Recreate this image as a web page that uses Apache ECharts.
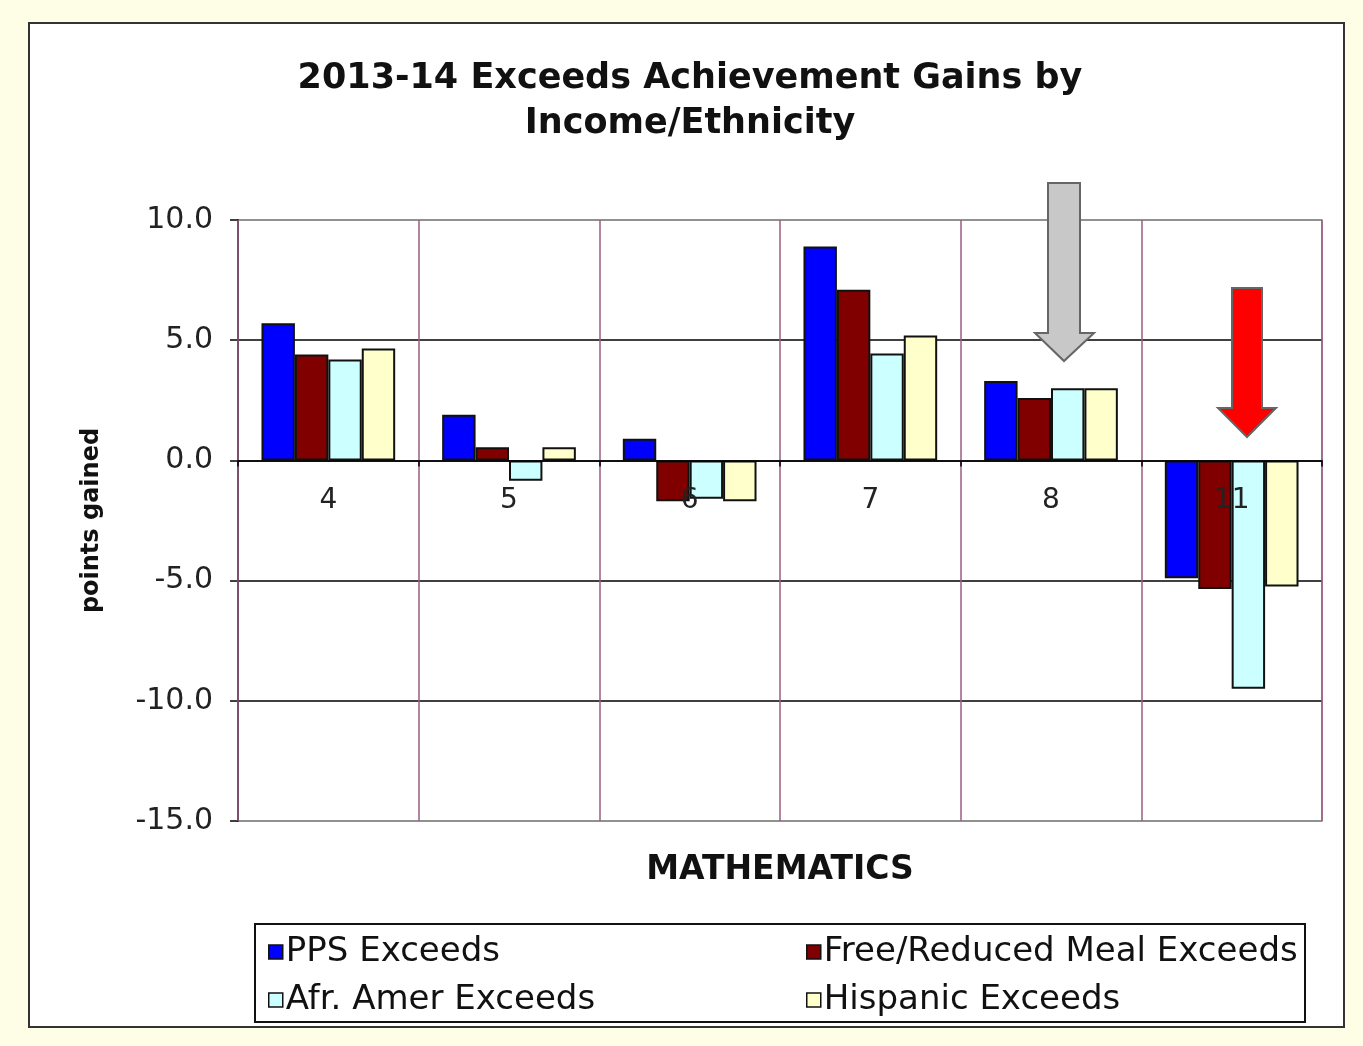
<!DOCTYPE html>
<html>
<head>
<meta charset="utf-8">
<script src="https://cdn.jsdelivr.net/npm/echarts@6/dist/echarts.min.js"></script>
<style>
html,body{margin:0;padding:0;background:#FEFDE6;}
#frame{position:absolute;left:28px;top:22px;width:1317px;height:1006px;background:#fff;border:2px solid #333;box-sizing:border-box;}
#chart{position:absolute;left:0;top:0;width:1363px;height:1046px;}
</style>
</head>
<body>
<div id="frame"></div>
<div id="chart"></div>
<script>
const categories = ['4', '5', '6', '7', '8', '11'];
const seriesNames = ['PPS Exceeds', 'Free/Reduced Meal Exceeds', 'Afr. Amer Exceeds', 'Hispanic Exceeds'];
const ppsExceeds = [5.7, 1.9, 0.9, 8.9, 3.3, -4.9];
const frmExceeds = [4.4, 0.55, -1.7, 7.1, 2.6, -5.35];
const afrExceeds = [4.2, -0.85, -1.6, 4.45, 3.0, -9.5];
const hispExceeds = [4.65, 0.55, -1.7, 5.2, 3.0, -5.25];
const yTicks = [-15, -10, -5, 0, 5, 10];

const colors = ['#0000FF', '#800000', '#CCFFFF', '#FFFFCC'];
const values = [ppsExceeds, frmExceeds, afrExceeds, hispExceeds];
const FONT = 'DejaVu Sans';

const GRID = {left: 238, top: 220, right: 41, bottom: 225};
const gridH = 1046 - GRID.top - GRID.bottom;
const yMin = yTicks[0], yMax = yTicks[yTicks.length - 1];
// place category axis on the zero line
const xAxisOffset = -gridH * (0 - yMin) / (yMax - yMin);

const chart = echarts.init(document.getElementById('chart'), null, {renderer: 'canvas'});

const series = seriesNames.map((n, i) => ({
  name: n,
  type: 'bar',
  data: values[i],
  barGap: '0%',
  barCategoryGap: '26%',
  itemStyle: {color: colors[i], borderColor: '#111', borderWidth: 2},
  emphasis: {disabled: true}
}));

const legendPos = [
  {left: 268, top: 935},
  {left: 806, top: 935},
  {left: 268, top: 983},
  {left: 806, top: 983}
];
const legends = seriesNames.map((n, i) => ({
  data: [n],
  left: legendPos[i].left,
  top: legendPos[i].top,
  padding: 0,
  icon: 'rect',
  itemWidth: 14,
  itemHeight: 14,
  itemGap: 0,
  selectedMode: false,
  itemStyle: {borderWidth: 1.5, borderColor: '#111'},
  textStyle: {fontFamily: FONT, fontSize: 34, color: '#111', padding: [0, 0, 0, -2]}
}));

chart.setOption({
  animation: false,
  backgroundColor: 'transparent',
  textStyle: {fontFamily: FONT},
  grid: {left: GRID.left, top: GRID.top, right: GRID.right, bottom: GRID.bottom, show: true, borderColor: '#8a8a8a', borderWidth: 1.5, backgroundColor: 'transparent'},
  legend: legends,
  xAxis: {
    type: 'category',
    data: categories,
    z: 5,
    offset: xAxisOffset,
    axisLine: {show: true, onZero: false, lineStyle: {color: '#000', width: 1.5}},
    axisTick: {show: true, length: 6, lineStyle: {color: '#000', width: 1.5}},
    axisLabel: {fontFamily: FONT, fontSize: 28, color: '#222', margin: 26},
    splitLine: {show: true, interval: 0, lineStyle: {color: '#9B5C84', width: 1.5}}
  },
  yAxis: {
    type: 'value',
    min: yMin,
    max: yMax,
    interval: 5,
    name: 'points gained',
    nameLocation: 'middle',
    nameGap: 134,
    nameRotate: 90,
    nameTextStyle: {fontFamily: FONT, fontSize: 24, fontWeight: 'bold', color: '#111'},
    axisLine: {show: true, lineStyle: {color: '#000', width: 1.5}},
    axisTick: {show: true, length: 8, lineStyle: {color: '#000', width: 1.5}},
    axisLabel: {fontFamily: FONT, fontSize: 30, color: '#222', margin: 25, formatter: v => v.toFixed(1)},
    splitLine: {show: true, lineStyle: {color: ['#8a8a8a', '#000', '#000', '#000', '#000', '#8a8a8a'], width: 1.5}}
  },
  series: series,
  graphic: {
    elements: [
      {type: 'text', style: {x: 690, y: 56, text: '2013-14 Exceeds Achievement Gains by\nIncome/Ethnicity', textAlign: 'center', fill: '#111', font: 'bold 35px "DejaVu Sans"', lineHeight: 45}},
      {type: 'text', style: {x: 780, y: 854, text: 'MATHEMATICS', textAlign: 'center', fill: '#111', font: 'bold 33px "DejaVu Sans"'}},
      {type: 'rect', shape: {x: 255, y: 924, width: 1050, height: 98}, style: {fill: 'none', stroke: '#111', lineWidth: 2}, z: 50},
      {type: 'polygon', z: 100, shape: {points: [[1048,183],[1080,183],[1080,333],[1094,333],[1064,361],[1035,333],[1048,333]]}, style: {fill: '#C8C8C8', stroke: '#666', lineWidth: 2}},
      {type: 'polygon', z: 100, shape: {points: [[1232,288],[1262,288],[1262,408],[1276,408],[1247,437],[1218,408],[1232,408]]}, style: {fill: '#FF0000', stroke: '#666', lineWidth: 2}}
    ]
  }
});
</script>
</body>
</html>
